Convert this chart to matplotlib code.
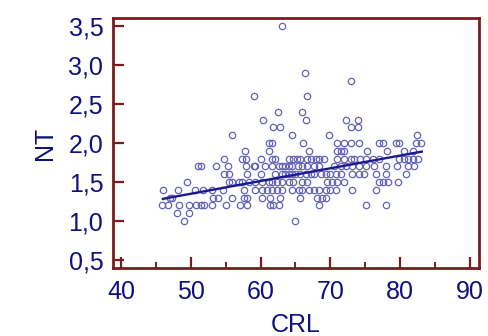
import matplotlib
matplotlib.use("Agg")
import matplotlib.pyplot as plt
from matplotlib.ticker import MultipleLocator, FuncFormatter

# CRL values grouped by NT level
crl_by_nt = {
    3.5: [63.0],
    2.9: [66.4],
    2.8: [73.0],
    2.6: [59.0, 66.7],
    2.4: [62.5, 66.0],
    2.3: [60.4, 66.5, 72.2, 74.0],
    2.2: [61.8, 62.8, 73.0, 74.0],
    2.1: [55.9, 64.5, 69.8, 82.4],
    2.0: [61.2, 61.6, 66.1, 71.0, 72.0, 72.9, 74.1, 77.0, 77.5, 79.4, 79.9,
          82.2, 83.0],
    1.9: [57.7, 61.2, 66.9, 71.0, 71.5, 72.0, 75.2, 78.1, 80.6, 81.8],
    1.8: [54.8, 57.4, 57.9, 60.0, 61.6, 62.1, 64.0, 64.6, 65.2, 65.7, 66.7,
          67.2, 67.9, 68.4, 69.1, 71.0, 72.0, 72.9, 73.4, 74.3, 75.1, 76.1,
          77.0, 79.9, 80.6, 81.1, 81.8, 82.5],
    1.7: [51.0, 51.4, 53.6, 55.3, 57.9, 59.0, 59.2, 60.7, 61.7, 62.7, 63.1,
          63.5, 64.0, 64.5, 65.3, 66.0, 66.7, 67.6, 68.4, 70.5, 71.5, 72.2,
          73.1, 74.1, 75.1, 76.3, 78.0, 79.6, 81.1, 82.0],
    1.6: [54.8, 55.4, 58.1, 60.1, 62.1, 63.0, 63.5, 64.0, 64.5, 64.9, 65.7,
          66.5, 67.2, 67.6, 68.6, 69.3, 70.0, 70.8, 71.5, 73.1, 74.1, 74.8,
          76.5, 78.0, 80.8],
    1.5: [49.5, 55.4, 55.9, 56.9, 57.3, 58.3, 59.2, 60.2, 61.2, 61.6, 62.3,
          63.1, 64.0, 64.7, 66.0, 66.7, 69.5, 70.3, 71.0, 72.0, 77.0, 77.5,
          78.2, 79.7],
    1.4: [46.0, 48.1, 50.6, 51.8, 53.0, 54.6, 57.6, 59.2, 60.2, 60.9, 61.6,
          62.3, 63.1, 64.5, 65.5, 66.0, 66.9, 67.6, 68.4, 69.3, 70.0, 70.8,
          73.1, 76.5],
    1.3: [47.0, 47.3, 53.2, 53.9, 55.9, 57.6, 58.1, 60.2, 61.4, 62.8, 65.7,
          68.1, 68.8, 69.3],
    1.2: [45.9, 46.8, 48.3, 49.7, 50.8, 51.5, 51.9, 53.1, 55.0, 57.0, 58.0,
          61.4, 61.8, 62.6, 68.3, 75.1, 78.0],
    1.1: [48.0, 49.8],
    1.0: [49.0, 64.9],
}

# regression line end points
fit_crl = [46.0, 83.1]
fit_nt = [1.285, 1.89]

crl = []
nt = []
for level, xs in crl_by_nt.items():
    for x in xs:
        crl.append(x)
        nt.append(level)

axis_red = "#7a1c1c"
navy = "#10107e"

plt.rcParams["font.family"] = ["Liberation Sans", "DejaVu Sans"]

fig = plt.figure(figsize=(4.88, 3.36), dpi=100)
ax = fig.add_axes([0.2316, 0.2024, 0.75, 0.744])

ax.plot(crl, nt, linestyle="none", marker="o", ms=4.6, mfc="none",
        mec="#6262bc", mew=0.9)
ax.plot(fit_crl, fit_nt, color="#1a1a8e", lw=1.7)

ax.set_xlim(38.85, 91.3)
ax.set_ylim(0.4, 3.6)
ax.xaxis.set_major_locator(MultipleLocator(10))
ax.xaxis.set_minor_locator(MultipleLocator(5))
ax.yaxis.set_major_locator(MultipleLocator(0.5))
ax.yaxis.set_major_formatter(FuncFormatter(lambda v, p: f"{v:.1f}".replace(".", ",")))

for s in ax.spines.values():
    s.set_color(axis_red)
    s.set_linewidth(2)

ax.tick_params(axis="both", which="major", direction="in", length=8, width=1.6,
               color=axis_red, labelcolor=navy, labelsize=18)
ax.tick_params(axis="x", which="major", pad=9)
ax.tick_params(axis="y", which="major", pad=7)
ax.tick_params(axis="x", which="minor", direction="in", length=4, width=1.4,
               color=axis_red)

ax.set_xlabel("CRL", fontsize=18, color=navy, labelpad=6)
ax.set_ylabel("NT", fontsize=18, color=navy, labelpad=8)

fig.savefig("out.png", dpi=100)
plt.close(fig)
